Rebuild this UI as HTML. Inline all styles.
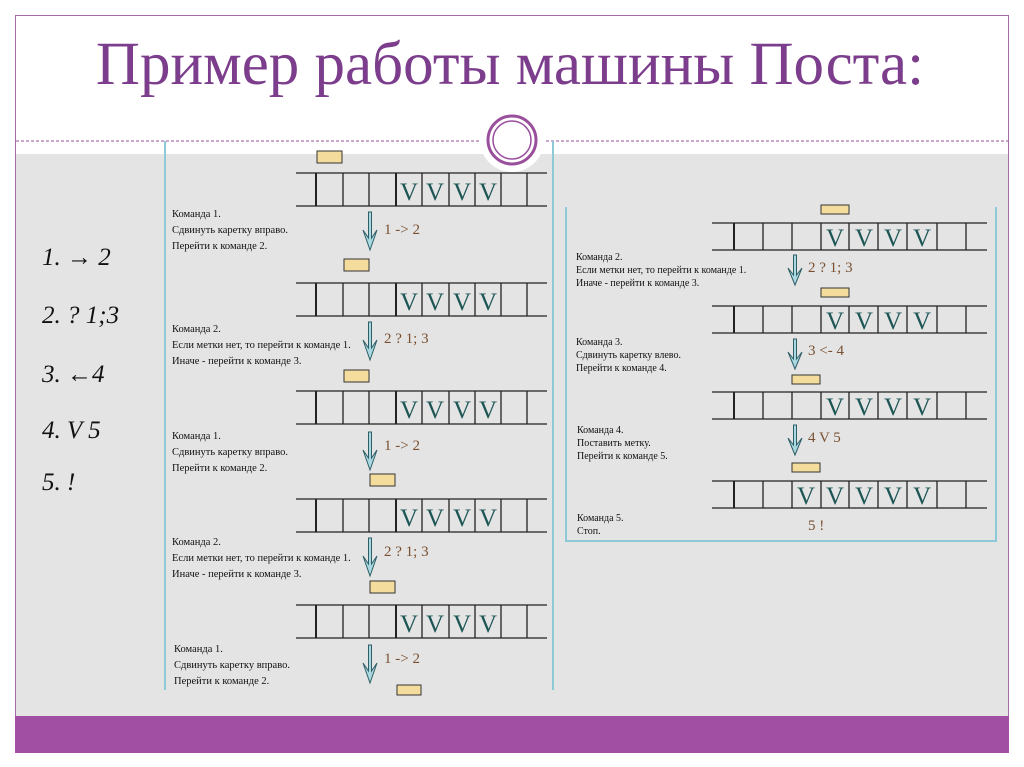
<!DOCTYPE html>
<html><head><meta charset="utf-8"><style>
html,body{margin:0;padding:0;background:#fff;width:1024px;height:767px;overflow:hidden}
svg{display:block}
.t{font-family:"Liberation Serif",serif;font-size:10.5px;fill:#111}
.tr{font-family:"Liberation Serif",serif;font-size:10px;fill:#111}
.v{font-family:"Liberation Serif",serif;font-size:25px;fill:#1e5656}
.lb{font-family:"Liberation Serif",serif;font-size:15px;fill:#7a5030}
.li{font-family:"Liberation Serif",serif;font-style:italic;font-size:25px;fill:#111}
</style></head><body>
<svg width="1024" height="767" viewBox="0 0 1024 767" xmlns="http://www.w3.org/2000/svg">
<defs>
<g id="lt" stroke="#222" stroke-width="1.3" fill="none">
<line x1="296" y1="0" x2="547" y2="0"/><line x1="296" y1="33" x2="547" y2="33"/>
<line x1="316" y1="0" x2="316" y2="33" stroke-width="2"/>
<line x1="343" y1="0" x2="343" y2="33"/><line x1="369" y1="0" x2="369" y2="33"/>
<line x1="396" y1="0" x2="396" y2="33" stroke-width="2"/><line x1="422" y1="0" x2="422" y2="33"/>
<line x1="449" y1="0" x2="449" y2="33"/><line x1="475" y1="0" x2="475" y2="33"/>
<line x1="501" y1="0" x2="501" y2="33"/><line x1="527" y1="0" x2="527" y2="33"/>
</g>
<g id="lv"><text class="v" x="409" y="27" text-anchor="middle">V</text><text class="v" x="435" y="27" text-anchor="middle">V</text><text class="v" x="462" y="27" text-anchor="middle">V</text><text class="v" x="488" y="27" text-anchor="middle">V</text></g>
<g id="rt" stroke="#222" stroke-width="1.3" fill="none">
<line x1="712" y1="0" x2="987" y2="0"/><line x1="712" y1="27" x2="987" y2="27"/>
<line x1="734" y1="0" x2="734" y2="27" stroke-width="2"/>
<line x1="763" y1="0" x2="763" y2="27"/><line x1="792" y1="0" x2="792" y2="27"/>
<line x1="821" y1="0" x2="821" y2="27"/><line x1="849" y1="0" x2="849" y2="27"/>
<line x1="878" y1="0" x2="878" y2="27"/><line x1="907" y1="0" x2="907" y2="27"/>
<line x1="937" y1="0" x2="937" y2="27"/><line x1="966" y1="0" x2="966" y2="27"/>
</g>
<g id="rv"><text class="v" x="835" y="23" text-anchor="middle">V</text><text class="v" x="864" y="23" text-anchor="middle">V</text><text class="v" x="893" y="23" text-anchor="middle">V</text><text class="v" x="922" y="23" text-anchor="middle">V</text></g>
<path id="ar" d="M-1.5,0 L1.5,0 L1.5,26 L7,18 L0,38 L-7,18 L-1.5,26 Z" fill="#a9d8e0" stroke="#2e5e66" stroke-width="1"/>
<path id="ar2" d="M-1.5,0 L1.5,0 L1.5,20 L7,13 L0,30 L-7,13 L-1.5,20 Z" fill="#a9d8e0" stroke="#2e5e66" stroke-width="1"/>
</defs>
<rect x="15.5" y="15.5" width="993" height="737" fill="#fff" stroke="#a56aaa" stroke-width="1"/>
<rect x="16" y="154" width="992" height="562" fill="#e4e4e4"/>
<rect x="15" y="716" width="994" height="37" fill="#a04fa2"/>
<line x1="16" y1="141" x2="1008" y2="141" stroke="#9a4f9c" stroke-width="1" stroke-dasharray="3,2"/>
<text x="510" y="84" text-anchor="middle" font-family="Liberation Serif,serif" font-size="61" fill="#7c3d8c">Пример работы машины Поста:</text>
<line x1="165" y1="141" x2="165" y2="690" stroke="#8ccad8" stroke-width="2"/>
<line x1="553" y1="141" x2="553" y2="690" stroke="#8ccad8" stroke-width="2"/>
<path d="M566,207 V541 H996 V207" fill="none" stroke="#8ccad8" stroke-width="2"/>
<circle cx="512" cy="140" r="32" fill="#fff"/>
<circle cx="512" cy="140" r="24" fill="none" stroke="#9a4f9c" stroke-width="3"/>
<circle cx="512" cy="140" r="19" fill="none" stroke="#9a4f9c" stroke-width="1.5"/>
<text class="li" x="42" y="265">1. → 2</text>
<text class="li" x="42" y="323">2. ? 1;3</text>
<text class="li" x="42" y="382">3. ←4</text>
<text class="li" x="42" y="438">4. V 5</text>
<text class="li" x="42" y="490">5. !</text>
<g fill="#f3dc9c" stroke="#333" stroke-width="1">
<rect x="317" y="151" width="25" height="12"/>
<rect x="344" y="259" width="25" height="12"/>
<rect x="344" y="370" width="25" height="12"/>
<rect x="370" y="474" width="25" height="12"/>
<rect x="370" y="581" width="25" height="12"/>
<rect x="397" y="685" width="24" height="10"/>
</g>
<use href="#lt" transform="translate(0,173)"/><use href="#lv" transform="translate(0,173)"/>
<use href="#lt" transform="translate(0,283)"/><use href="#lv" transform="translate(0,283)"/>
<use href="#lt" transform="translate(0,391)"/><use href="#lv" transform="translate(0,391)"/>
<use href="#lt" transform="translate(0,499)"/><use href="#lv" transform="translate(0,499)"/>
<use href="#lt" transform="translate(0,605)"/><use href="#lv" transform="translate(0,605)"/>
<use href="#ar" transform="translate(370,212)"/>
<use href="#ar" transform="translate(370,322)"/>
<use href="#ar" transform="translate(370,432)"/>
<use href="#ar" transform="translate(370,538)"/>
<use href="#ar" transform="translate(370,645)"/>
<text class="lb" x="384" y="234">1 -&gt; 2</text>
<text class="lb" x="384" y="343">2 ? 1; 3</text>
<text class="lb" x="384" y="450">1 -&gt; 2</text>
<text class="lb" x="384" y="556">2 ? 1; 3</text>
<text class="lb" x="384" y="663">1 -&gt; 2</text>
<text class="t" x="172" y="217">Команда 1.</text><text class="t" x="172" y="233">Сдвинуть каретку вправо.</text><text class="t" x="172" y="249">Перейти к  команде 2.</text>
<text class="t" x="172" y="332">Команда 2.</text><text class="t" x="172" y="348">Если метки нет, то перейти к команде 1.</text><text class="t" x="172" y="364">Иначе - перейти к команде 3.</text>
<text class="t" x="172" y="439">Команда 1.</text><text class="t" x="172" y="455">Сдвинуть каретку вправо.</text><text class="t" x="172" y="471">Перейти к  команде 2.</text>
<text class="t" x="172" y="545">Команда 2.</text><text class="t" x="172" y="561">Если метки нет, то перейти к команде 1.</text><text class="t" x="172" y="577">Иначе - перейти к команде 3.</text>
<text class="t" x="174" y="652">Команда 1.</text><text class="t" x="174" y="668">Сдвинуть каретку вправо.</text><text class="t" x="174" y="684">Перейти к  команде 2.</text>
<g fill="#f3dc9c" stroke="#333" stroke-width="1">
<rect x="821" y="205" width="28" height="9"/>
<rect x="821" y="288" width="28" height="9"/>
<rect x="792" y="375" width="28" height="9"/>
<rect x="792" y="463" width="28" height="9"/>
</g>
<use href="#rt" transform="translate(0,223)"/><use href="#rv" transform="translate(0,223)"/>
<use href="#rt" transform="translate(0,306)"/><use href="#rv" transform="translate(0,306)"/>
<use href="#rt" transform="translate(0,392)"/><use href="#rv" transform="translate(0,392)"/>
<use href="#rt" transform="translate(0,481)"/><use href="#rv" transform="translate(0,481)"/>
<text class="v" x="806" y="504" text-anchor="middle">V</text>
<use href="#ar2" transform="translate(795,255)"/>
<use href="#ar2" transform="translate(795,339)"/>
<use href="#ar2" transform="translate(795,425)"/>
<text class="lb" x="808" y="272">2 ? 1; 3</text>
<text class="lb" x="808" y="355">3 &lt;- 4</text>
<text class="lb" x="808" y="442">4 V 5</text>
<text class="lb" x="808" y="530">5 !</text>
<text class="tr" x="576" y="260">Команда 2.</text><text class="tr" x="576" y="273">Если метки нет, то перейти к команде 1.</text><text class="tr" x="576" y="286">Иначе - перейти к команде 3.</text>
<text class="tr" x="576" y="345">Команда 3.</text><text class="tr" x="576" y="358">Сдвинуть каретку влево.</text><text class="tr" x="576" y="371">Перейти к  команде 4.</text>
<text class="tr" x="577" y="433">Команда 4.</text><text class="tr" x="577" y="446">Поставить метку.</text><text class="tr" x="577" y="459">Перейти к  команде 5.</text>
<text class="tr" x="577" y="521">Команда 5.</text><text class="tr" x="577" y="534">Стоп.</text>
</svg>
</body></html>
